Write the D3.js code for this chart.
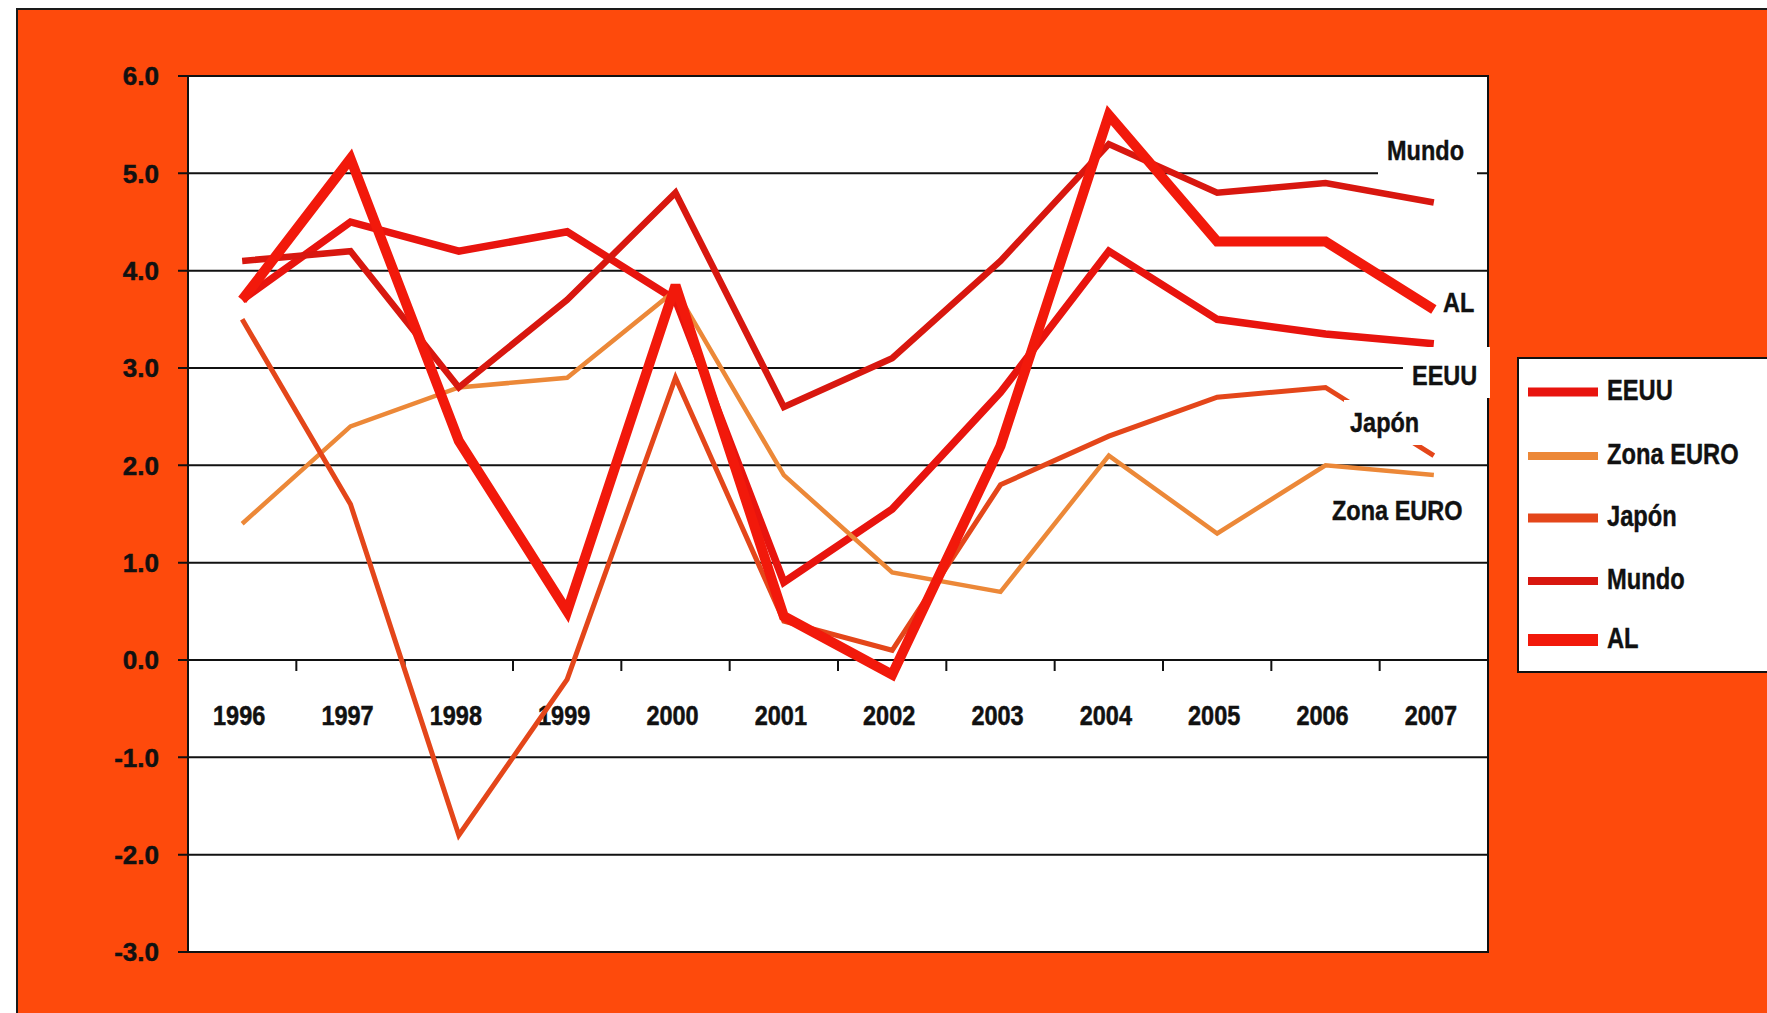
<!DOCTYPE html>
<html>
<head>
<meta charset="utf-8">
<script src="https://cdn.jsdelivr.net/npm/d3@7"></script>
<style>
  html, body { margin: 0; padding: 0; background: #ffffff; }
  svg { display: block; }
  text { font-family: "Liberation Sans", Arial, sans-serif; font-weight: bold; fill: #111; }
</style>
</head>
<body>
<svg id="chart" width="1767" height="1013"></svg>
<script>
// ---------- data ----------
const years = ["1996","1997","1998","1999","2000","2001","2002","2003","2004","2005","2006","2007"];
const eeuu     = [3.7, 4.5, 4.2, 4.4, 3.7, 0.8, 1.55, 2.75, 4.2, 3.5, 3.35, 3.25];
const zonaEuro = [1.4, 2.4, 2.8, 2.9, 3.8, 1.9, 0.9, 0.7, 2.1, 1.3, 2.0, 1.9];
const japon    = [3.5, 1.6, -1.8, -0.2, 2.9, 0.4, 0.1, 1.8, 2.3, 2.7, 2.8, 2.1];
const mundo    = [4.1, 4.2, 2.8, 3.7, 4.8, 2.6, 3.1, 4.1, 5.3, 4.8, 4.9, 4.7];
const al       = [3.7, 5.15, 2.25, 0.5, 3.85, 0.45, -0.15, 2.2, 5.6, 4.3, 4.3, 3.6];
const yTicks   = [6, 5, 4, 3, 2, 1, 0, -1, -2, -3];
const seriesNames = ["EEUU", "Zona EURO", "Japón", "Mundo", "AL"];

// ---------- styling ----------
const styles = {
  "EEUU":      { color: "#e8140e", width: 7.5, legendW: 9 },
  "Zona EURO": { color: "#ec8838", width: 4.5, legendW: 8 },
  "Japón":     { color: "#e4461a", width: 5,   legendW: 9 },
  "Mundo":     { color: "#d8170f", width: 6.5, legendW: 8 },
  "AL":        { color: "#f2190b", width: 10,  legendW: 12 }
};
const seriesData = { "EEUU": eeuu, "Zona EURO": zonaEuro, "Japón": japon, "Mundo": mundo, "AL": al };

const svg = d3.select("#chart");
const W = 1767, H = 1013;
const plot = { left: 188, right: 1488, top: 76, bottom: 952 };

// outer orange frame
svg.append("rect").attr("x", 17).attr("y", 9).attr("width", W).attr("height", H)
  .attr("fill", "#fe4a0c").attr("stroke", "#1a1a1a").attr("stroke-width", 2);

const x = d3.scaleBand().domain(years).range([plot.left, plot.right]);
const y = d3.scaleLinear().domain([-3, 6]).range([plot.bottom, plot.top]);
const cx = d => x(d) + x.bandwidth() / 2;

// plot area
svg.append("rect").attr("x", plot.left).attr("y", plot.top)
  .attr("width", plot.right - plot.left).attr("height", plot.bottom - plot.top)
  .attr("fill", "#ffffff").attr("stroke", "#111").attr("stroke-width", 2);

// gridlines
svg.append("g").selectAll("line").data(yTicks).join("line")
  .attr("x1", plot.left - 10).attr("x2", plot.right)
  .attr("y1", d => y(d)).attr("y2", d => y(d))
  .attr("stroke", "#111").attr("stroke-width", 2);

// y labels
svg.append("g").selectAll("text").data(yTicks).join("text")
  .attr("x", 159).attr("y", d => y(d)).attr("dy", "0.36em")
  .attr("text-anchor", "end").attr("font-size", 26)
  .attr("stroke", "#111").attr("stroke-width", 0.5)
  .text(d => d.toFixed(1));

// x axis ticks at category boundaries on the zero line
svg.append("g").selectAll("line").data(years.slice(1)).join("line")
  .attr("x1", d => x(d)).attr("x2", d => x(d))
  .attr("y1", y(0)).attr("y2", y(0) + 11)
  .attr("stroke", "#111").attr("stroke-width", 2);

// x labels
svg.append("g").selectAll("text").data(years).join("text")
  .attr("transform", d => `translate(${cx(d) - 3},725) scale(0.87,1)`)
  .attr("text-anchor", "middle").attr("font-size", 27)
  .attr("stroke", "#111").attr("stroke-width", 0.5)
  .text(d => d);

// lines
const line = d3.line().x((d, i) => cx(years[i])).y(d => y(d));
const lineG = svg.append("g");
seriesNames.forEach(name => {
  lineG.append("path").datum(seriesData[name])
    .attr("d", line).attr("fill", "none")
    .attr("stroke", styles[name].color).attr("stroke-width", styles[name].width)
    .attr("stroke-linejoin", "miter").attr("stroke-miterlimit", 3);
});

// data labels with white boxes
const labels = [
  { text: "Mundo",     box: [1378, 128, 99, 48],  tx: 1387, ty: 160 },
  { text: "AL",        box: [1438, 283, 42, 40],  tx: 1443, ty: 312 },
  { text: "EEUU",      box: [1403, 347, 87, 51],  tx: 1412, ty: 385 },
  { text: "Japón",     box: [1344, 400, 78, 45],  tx: 1350, ty: 432 },
  { text: "Zona EURO", box: [1325, 488, 150, 44], tx: 1332, ty: 520 }
];
const lab = svg.append("g");
labels.forEach(l => {
  lab.append("rect").attr("x", l.box[0]).attr("y", l.box[1])
    .attr("width", l.box[2]).attr("height", l.box[3]).attr("fill", "#ffffff");
  lab.append("text").attr("transform", `translate(${l.tx},${l.ty}) scale(0.84,1)`)
    .attr("font-size", 28).attr("stroke", "#111").attr("stroke-width", 0.4)
    .text(l.text);
});

// legend
const lg = svg.append("g");
lg.append("rect").attr("x", 1518).attr("y", 358).attr("width", 300).attr("height", 314)
  .attr("fill", "#ffffff").attr("stroke", "#111").attr("stroke-width", 2);
const legendY = [392, 456, 518, 581, 640];
seriesNames.forEach((name, i) => {
  lg.append("line").attr("x1", 1528).attr("x2", 1598)
    .attr("y1", legendY[i]).attr("y2", legendY[i])
    .attr("stroke", styles[name].color).attr("stroke-width", styles[name].legendW);
  lg.append("text").attr("transform", `translate(1607,${legendY[i] + 8}) scale(0.79,1)`)
    .attr("font-size", 30).attr("stroke", "#111").attr("stroke-width", 0.4)
    .text(name);
});
</script>
</body>
</html>
